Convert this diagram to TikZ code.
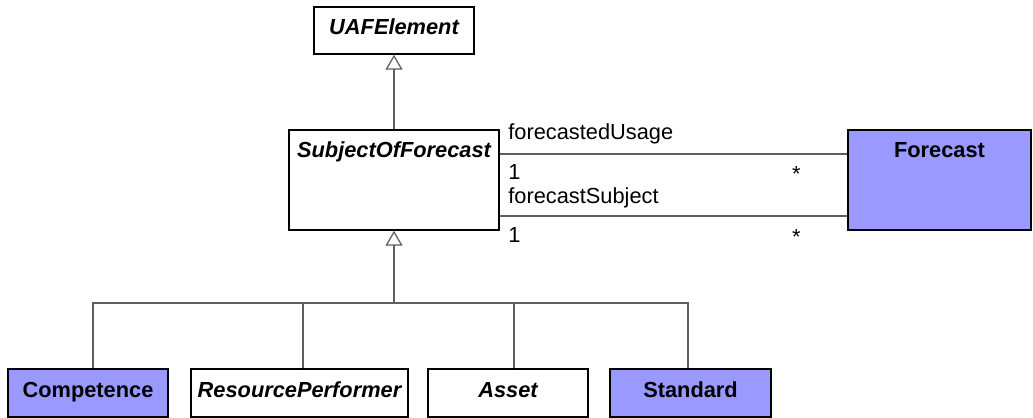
\documentclass[tikz,border=0pt]{standalone}
\usepackage{fontspec}
\setmainfont{Liberation Sans}
\usetikzlibrary{arrows.meta}
\definecolor{classblue}{HTML}{9999FF}
\definecolor{linegray}{HTML}{5F5F5F}

\begin{document}
\begin{tikzpicture}[x=0.025cm, y=-0.025cm,
  cls/.style={draw, line width=1pt, fill=white, inner xsep=2pt, inner ysep=0pt, text height=0.7cm, font=\fontsize{15.5}{18}\selectfont\bfseries\itshape},
  filled/.style={cls, fill=classblue, font=\fontsize{15.5}{18}\selectfont\bfseries},
  lbl/.style={font=\fontsize{15.5}{18}\selectfont, inner sep=0pt},
  conn/.style={draw=linegray, line width=0.9pt},
  gen/.style={conn, -{Triangle[open, length=0.375cm, width=0.425cm]}}
]
\useasboundingbox (0,0) rectangle (1033,418);

\node[cls, minimum width=4cm, text depth=0.475cm] (uaf) at (394,30.5) {UAFElement};
\node[cls, minimum width=5.25cm, text depth=1.8cm] (sof) at (394,180) {SubjectOfForecast};
\node[filled, minimum width=4.575cm, text depth=1.8cm] (fc) at (939.5,180) {Forecast};

\node[filled, minimum width=4cm, text depth=0.5cm] (comp) at (88,393) {Competence};
\node[cls, minimum width=5.425cm, text depth=0.5cm] (rp) at (299.5,393) {ResourcePerformer};
\node[cls, minimum width=4cm, text depth=0.5cm] (asset) at (508,393) {Asset};
\node[filled, minimum width=4.025cm, text depth=0.5cm] (std) at (690.5,393) {Standard};

\coordinate (bus) at (394,303);

\draw[gen] (sof) -- (uaf);
\draw[gen] (bus) -- (sof);
\draw[conn] ([xshift=0.125cm]comp.north) |- (bus) -| ([xshift=-0.0625cm]std.north);
\draw[conn] ([xshift=0.0875cm]rp.north) |- (bus);
\draw[conn] ([xshift=0.15cm]asset.north) |- (bus);

\draw[conn] ([yshift=0.65cm]sof.east) -- ([yshift=0.65cm]fc.west)
  node[lbl, pos=0, anchor=base west, xshift=0.2cm, yshift=0.35cm] (usage) {forecastedUsage}
  node[lbl, pos=0, anchor=base west, xshift=0.2cm, yshift=-0.65cm] (usage1) {1}
  node[lbl, pos=1, anchor=base, xshift=-1.275cm, yshift=-0.7cm] (usagen) {*};
\draw[conn] ([yshift=-0.9cm]sof.east) -- ([yshift=-0.9cm]fc.west)
  node[lbl, pos=0, anchor=base west, xshift=0.2cm, yshift=0.325cm] (subj) {forecastSubject}
  node[lbl, pos=0, anchor=base west, xshift=0.2cm, yshift=-0.65cm] (subj1) {1}
  node[lbl, pos=1, anchor=base, xshift=-1.275cm, yshift=-0.7cm] (subjn) {*};
\end{tikzpicture}
\end{document}
